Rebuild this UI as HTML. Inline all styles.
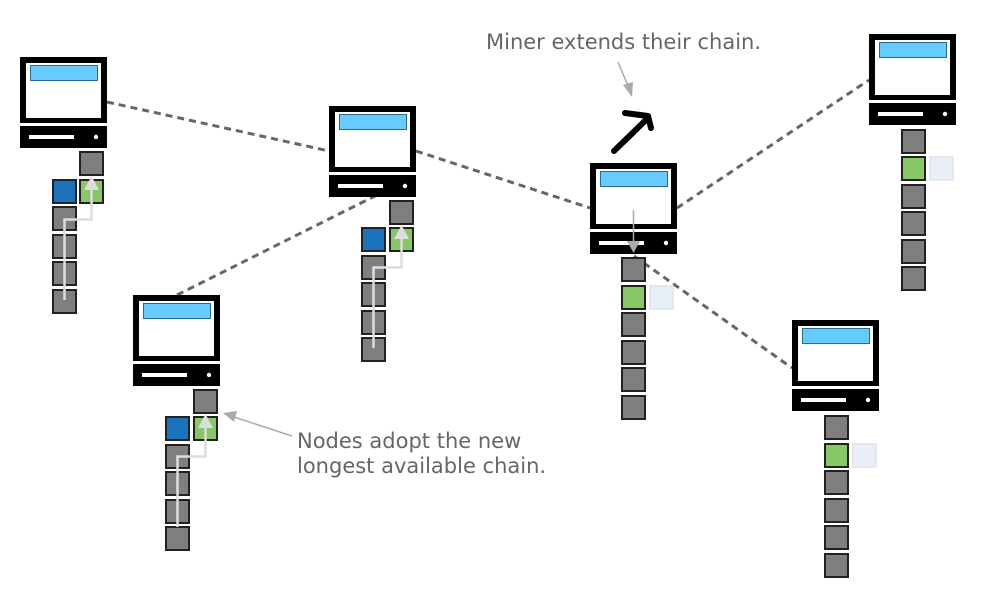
<!DOCTYPE html>
<html><head><meta charset="utf-8"><style>
html,body{margin:0;padding:0;background:#fff;}
svg{display:block;}
text{font-family:"DejaVu Sans","Liberation Sans",sans-serif;font-size:21px;fill:#666;}
</style></head><body>
<svg width="983" height="597" viewBox="0 0 983 597" xmlns="http://www.w3.org/2000/svg">
<defs>
<g id="pc">
<rect x="0" y="0" width="87" height="66" fill="#000"/>
<rect x="6" y="6" width="75" height="55" fill="#fff"/>
<rect x="10.5" y="8.5" width="67" height="15" fill="#66ccff" stroke="#2a6a8a" stroke-width="1"/>
<rect x="0" y="69" width="87" height="22" fill="#000"/>
<rect x="9" y="78" width="45" height="4" fill="#fff"/>
<circle cx="76" cy="80" r="2.2" fill="#fff"/>
</g>
<rect id="g" width="23" height="23" fill="#7f7f7f" stroke="#222" stroke-width="2"/>
<rect id="gr" width="23" height="23" fill="#88c765" stroke="#222" stroke-width="2"/>
<rect id="bl" width="23" height="23" fill="#1a73bd" stroke="#222" stroke-width="2"/>
<rect id="lt" width="23" height="23" fill="#e8eff7" stroke="#dde4ec" stroke-width="1.5"/>
</defs>

<g stroke="#666" stroke-width="3" stroke-dasharray="7,5" fill="none">
<line x1="107" y1="102" x2="329" y2="151"/>
<line x1="416" y1="151" x2="590" y2="208"/>
<line x1="177" y1="295" x2="377" y2="195"/>
<line x1="677" y1="208" x2="869" y2="80"/>
<line x1="634" y1="256" x2="792" y2="368"/>
</g>

<use href="#pc" x="20" y="57"/>
<use href="#pc" x="329" y="106"/>
<use href="#pc" x="133" y="295"/>
<use href="#pc" x="590" y="163"/>
<use href="#pc" x="869" y="34"/>
<use href="#pc" x="792" y="320"/>

<use href="#g" x="80" y="152"/>
<use href="#bl" x="53" y="180"/><use href="#gr" x="80" y="180"/>
<use href="#g" x="53" y="207"/><use href="#g" x="53" y="235"/><use href="#g" x="53" y="262"/><use href="#g" x="53" y="290"/>
<path d="M64.5 300 V219.5 H91.5 V188" stroke="#ddd" stroke-width="2.5" fill="none"/>
<polygon points="91.5,176 84,190 99,190" fill="#ddd"/>

<use href="#g" x="390" y="201"/>
<use href="#bl" x="362" y="228"/><use href="#gr" x="390" y="228"/>
<use href="#g" x="362" y="256"/><use href="#g" x="362" y="283"/><use href="#g" x="362" y="311"/><use href="#g" x="362" y="338"/>
<path d="M373.5 348 V267.5 H401.5 V237" stroke="#ddd" stroke-width="2.5" fill="none"/>
<polygon points="401.5,225 394,239 409,239" fill="#ddd"/>

<use href="#g" x="194" y="390"/>
<use href="#bl" x="166" y="417"/><use href="#gr" x="194" y="417"/>
<use href="#g" x="166" y="445"/><use href="#g" x="166" y="472"/><use href="#g" x="166" y="500"/><use href="#g" x="166" y="527"/>
<path d="M177.5 527 V456.5 H205.5 V426" stroke="#ddd" stroke-width="2.5" fill="none"/>
<polygon points="205.5,414 198,428 213,428" fill="#ddd"/>

<use href="#g" x="622" y="258"/>
<use href="#gr" x="622" y="286"/><use href="#lt" x="650" y="286"/>
<use href="#g" x="622" y="313"/><use href="#g" x="622" y="341"/><use href="#g" x="622" y="368"/><use href="#g" x="622" y="396"/>
<line x1="633.5" y1="210" x2="633.5" y2="242" stroke="#aaa" stroke-width="1.5"/>
<polygon points="633.5,253 627,241 640,241" fill="#aaa"/>

<use href="#g" x="902" y="130"/>
<use href="#gr" x="902" y="157"/><use href="#lt" x="930" y="157"/>
<use href="#g" x="902" y="185"/><use href="#g" x="902" y="212"/><use href="#g" x="902" y="240"/><use href="#g" x="902" y="267"/>

<use href="#g" x="825" y="416"/>
<use href="#gr" x="825" y="444"/><use href="#lt" x="853" y="444"/>
<use href="#g" x="825" y="471"/><use href="#g" x="825" y="499"/><use href="#g" x="825" y="526"/><use href="#g" x="825" y="554"/>

<g stroke="#000" stroke-width="6" stroke-linecap="round" stroke-linejoin="round" fill="none">
<line x1="614" y1="151" x2="648" y2="118"/>
<polyline points="625,113 648,116 651,128"/>
</g>

<text x="486" y="49">Miner extends their chain.</text>
<line x1="618" y1="62" x2="628" y2="86" stroke="#aaa" stroke-width="1.5"/>
<polygon points="632,97 623,85 633,82" fill="#aaa"/>

<text x="297" y="448">Nodes adopt the new</text>
<text x="297" y="473">longest available chain.</text>
<line x1="292" y1="436" x2="234" y2="417" stroke="#aaa" stroke-width="1.5"/>
<polygon points="223,413 237,411 234,422" fill="#aaa"/>
</svg>
</body></html>
